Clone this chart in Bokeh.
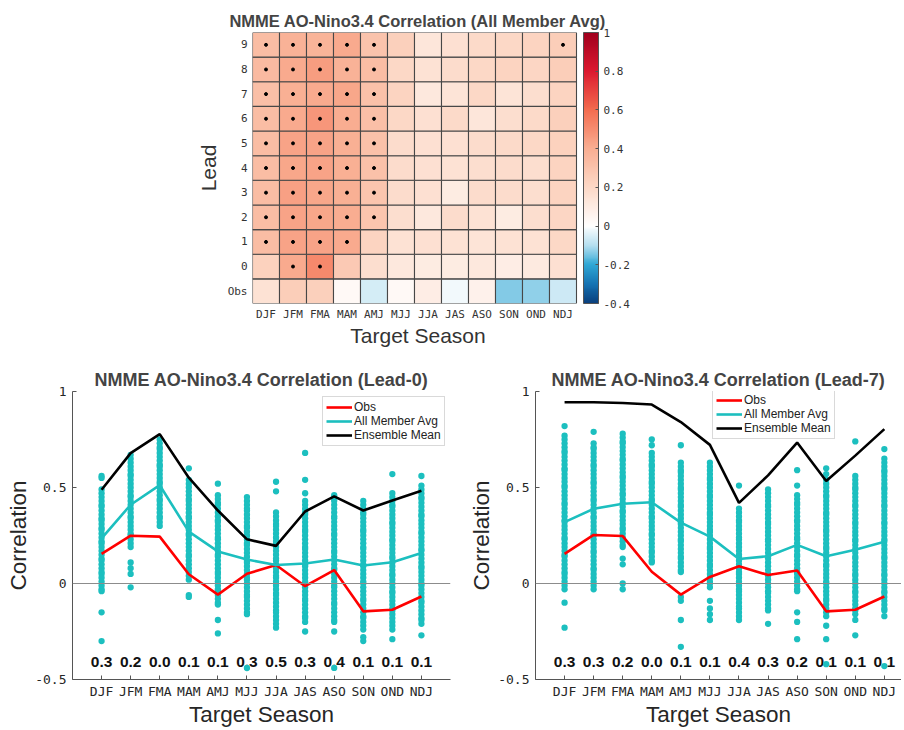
from bokeh.plotting import figure
from bokeh.models import (ColumnDataSource, LinearColorMapper, ColorBar, FixedTicker,
                          Span, Legend, LegendItem, FactorRange, Range1d, Spacer)
from bokeh.layouts import column, row
from bokeh.transform import transform
from bokeh.core.properties import value
from bokeh.embed import file_html
from bokeh.resources import INLINE

seasons = ["DJF", "JFM", "FMA", "MAM", "AMJ", "MJJ", "JJA", "JAS", "ASO", "SON", "OND", "NDJ"]
lead_labels = ["Obs", "0", "1", "2", "3", "4", "5", "6", "7", "8", "9"]

# ---------------- heatmap values (rows bottom to top) ----------------
heat_obs = [0.15, 0.25, 0.24, 0.03, -0.06, 0.03, 0.09, -0.02, 0.07, -0.14, -0.13, -0.07]
heat_l0 = [0.23, 0.41, 0.51, 0.27, 0.17, 0.12, 0.10, 0.10, 0.12, 0.09, 0.11, 0.16]
heat_l1 = [0.33, 0.43, 0.43, 0.41, 0.22, 0.15, 0.16, 0.15, 0.14, 0.15, 0.15, 0.20]
heat_l2 = [0.33, 0.43, 0.42, 0.40, 0.29, 0.17, 0.12, 0.18, 0.15, 0.10, 0.17, 0.21]
heat_l3 = [0.33, 0.44, 0.42, 0.39, 0.29, 0.18, 0.16, 0.10, 0.18, 0.18, 0.17, 0.22]
heat_l4 = [0.33, 0.42, 0.43, 0.39, 0.31, 0.18, 0.16, 0.15, 0.17, 0.18, 0.17, 0.22]
heat_l5 = [0.33, 0.43, 0.43, 0.39, 0.31, 0.18, 0.16, 0.16, 0.18, 0.19, 0.20, 0.23]
heat_l6 = [0.33, 0.41, 0.47, 0.40, 0.32, 0.20, 0.16, 0.19, 0.13, 0.17, 0.19, 0.24]
heat_l7 = [0.32, 0.39, 0.41, 0.42, 0.31, 0.22, 0.12, 0.14, 0.20, 0.14, 0.17, 0.22]
heat_l8 = [0.34, 0.41, 0.45, 0.38, 0.33, 0.20, 0.15, 0.18, 0.20, 0.22, 0.21, 0.25]
heat_l9 = [0.33, 0.38, 0.37, 0.41, 0.30, 0.24, 0.13, 0.16, 0.19, 0.20, 0.22, 0.25]
heat_rows = [heat_obs, heat_l0, heat_l1, heat_l2, heat_l3, heat_l4,
             heat_l5, heat_l6, heat_l7, heat_l8, heat_l9]

# significance dots (season names per lead)
sig_l0 = ["JFM", "FMA"]
sig_l1 = ["DJF", "JFM", "FMA", "MAM"]
sig_l2_8 = ["DJF", "JFM", "FMA", "MAM", "AMJ"]
sig_l9 = ["DJF", "JFM", "FMA", "MAM", "AMJ", "NDJ"]

cb_ticks = [-0.4, -0.2, 0, 0.2, 0.4, 0.6, 0.8, 1]

# ---------------- Lead-0 panel ----------------
l0_obs = [0.154, 0.249, 0.244, 0.048, -0.058, 0.051, 0.096, -0.014, 0.070, -0.145, -0.137, -0.068]
l0_avg = [0.235, 0.410, 0.512, 0.270, 0.167, 0.125, 0.096, 0.104, 0.125, 0.094, 0.111, 0.159]
l0_ens = [0.488, 0.679, 0.778, 0.551, 0.380, 0.230, 0.196, 0.375, 0.454, 0.380, 0.432, 0.483]
l0_pvals = ["0.3", "0.2", "0.0", "0.1", "0.1", "0.3", "0.5", "0.3", "0.4", "0.1", "0.1", "0.1"]

l0_djf = [0.56, 0.55, 0.49, 0.47, 0.45, 0.43, 0.41, 0.40, 0.38, 0.36, 0.34, 0.33, 0.31, 0.29, 0.28, 0.26,
          0.24, 0.22, 0.21, 0.19, 0.17, 0.15, 0.13, 0.12, 0.10, 0.08, 0.06, 0.05, 0.03, 0.01, -0.01,
          -0.03, -0.04, -0.15, -0.30]
l0_jfm = [0.67, 0.65, 0.63, 0.61, 0.59, 0.57, 0.56, 0.54, 0.52, 0.50, 0.48, 0.46, 0.45, 0.43, 0.41, 0.39,
          0.37, 0.35, 0.34, 0.32, 0.30, 0.28, 0.26, 0.25, 0.23, 0.21, 0.19, 0.11, 0.08, 0.05, -0.02]
l0_fma = [0.75, 0.73, 0.71, 0.70, 0.68, 0.66, 0.64, 0.62, 0.61, 0.59, 0.57, 0.55, 0.53, 0.52, 0.50, 0.48,
          0.46, 0.44, 0.43, 0.41, 0.39, 0.37, 0.35, 0.34, 0.32, 0.30]
l0_mam = [0.60, 0.54, 0.52, 0.50, 0.48, 0.46, 0.44, 0.43, 0.41, 0.39, 0.37, 0.35, 0.34, 0.32, 0.30, 0.28,
          0.26, 0.25, 0.23, 0.21, 0.19, 0.17, 0.15, 0.14, 0.12, 0.10, 0.08, 0.06, 0.04, 0.02, -0.06, -0.07]
l0_amj = [0.52, 0.46, 0.44, 0.42, 0.41, 0.39, 0.37, 0.35, 0.33, 0.32, 0.30, 0.28, 0.26, 0.24, 0.23, 0.21,
          0.19, 0.17, 0.15, 0.14, 0.12, 0.10, 0.08, 0.06, 0.05, 0.03, 0.01, -0.01, -0.03, -0.04, -0.06,
          -0.08, -0.10, -0.11, -0.19, -0.26]
l0_mjj = [0.45, 0.43, 0.41, 0.39, 0.38, 0.36, 0.34, 0.32, 0.30, 0.29, 0.27, 0.25, 0.23, 0.21, 0.20, 0.18,
          0.16, 0.14, 0.12, 0.11, 0.09, 0.07, 0.05, 0.03, 0.02, 0.00, -0.02, -0.04, -0.06, -0.07, -0.09,
          -0.11, -0.13, -0.15, -0.16, -0.44]
l0_jja = [0.53, 0.48, 0.37, 0.35, 0.33, 0.31, 0.30, 0.28, 0.26, 0.24, 0.22, 0.21, 0.19, 0.17, 0.15, 0.13,
          0.12, 0.10, 0.08, 0.06, 0.04, 0.03, 0.01, -0.01, -0.03, -0.05, -0.06, -0.08, -0.10, -0.12,
          -0.14, -0.15, -0.17, -0.19, -0.21, -0.23]
l0_jas = [0.68, 0.54, 0.47, 0.43, 0.41, 0.39, 0.37, 0.36, 0.34, 0.32, 0.30, 0.28, 0.27, 0.25, 0.23, 0.21,
          0.19, 0.18, 0.16, 0.14, 0.12, 0.10, 0.09, 0.07, 0.05, 0.03, 0.01, 0.00, -0.02, -0.04, -0.06,
          -0.08, -0.09, -0.11, -0.13, -0.15, -0.17, -0.18, -0.20, -0.25]
l0_aso = [0.46, 0.44, 0.43, 0.41, 0.39, 0.37, 0.35, 0.34, 0.32, 0.30, 0.28, 0.26, 0.25, 0.23, 0.21, 0.19,
          0.17, 0.16, 0.14, 0.12, 0.10, 0.08, 0.07, 0.05, 0.03, 0.01, -0.01, -0.02, -0.04, -0.06, -0.08,
          -0.10, -0.11, -0.13, -0.15, -0.17, -0.19, -0.20, -0.25, -0.44]
l0_son = [0.43, 0.41, 0.39, 0.37, 0.36, 0.34, 0.32, 0.30, 0.28, 0.27, 0.25, 0.23, 0.21, 0.19, 0.18, 0.16,
          0.14, 0.12, 0.10, 0.09, 0.07, 0.05, 0.03, 0.01, 0.00, -0.02, -0.04, -0.06, -0.08, -0.09, -0.11,
          -0.13, -0.15, -0.17, -0.18, -0.20, -0.22, -0.24, -0.28, -0.30]
l0_ond = [0.57, 0.47, 0.45, 0.43, 0.41, 0.40, 0.38, 0.36, 0.34, 0.32, 0.31, 0.29, 0.27, 0.25, 0.23, 0.22,
          0.20, 0.18, 0.16, 0.14, 0.13, 0.11, 0.09, 0.07, 0.05, 0.04, 0.02, 0.00, -0.02, -0.04, -0.05,
          -0.07, -0.09, -0.11, -0.13, -0.14, -0.16, -0.18, -0.20, -0.22, -0.24, -0.29]
l0_ndj = [0.56, 0.51, 0.49, 0.47, 0.45, 0.44, 0.42, 0.40, 0.38, 0.36, 0.35, 0.33, 0.31, 0.29, 0.27, 0.26,
          0.24, 0.22, 0.20, 0.18, 0.17, 0.15, 0.13, 0.11, 0.09, 0.08, 0.06, 0.04, 0.02, 0.00, -0.01,
          -0.03, -0.05, -0.07, -0.09, -0.10, -0.12, -0.14, -0.16, -0.18, -0.19, -0.21, -0.27]
l0_members = [l0_djf, l0_jfm, l0_fma, l0_mam, l0_amj, l0_mjj, l0_jja, l0_jas, l0_aso, l0_son, l0_ond, l0_ndj]

# ---------------- Lead-7 panel ----------------
l7_obs = [0.154, 0.253, 0.247, 0.061, -0.058, 0.034, 0.090, 0.044, 0.068, -0.145, -0.137, -0.068]
l7_avg = [0.320, 0.389, 0.415, 0.423, 0.317, 0.244, 0.128, 0.142, 0.201, 0.142, 0.176, 0.218]
l7_ens = [0.944, 0.944, 0.940, 0.932, 0.841, 0.722, 0.420, 0.563, 0.734, 0.534, 0.666, 0.804]
l7_pvals = ["0.3", "0.3", "0.2", "0.0", "0.1", "0.1", "0.4", "0.3", "0.2", "0.1", "0.1", "0.1"]

l7_djf = [0.82, 0.77, 0.75, 0.73, 0.71, 0.69, 0.68, 0.66, 0.64, 0.62, 0.60, 0.59, 0.57, 0.55, 0.53, 0.51,
          0.50, 0.48, 0.46, 0.44, 0.42, 0.41, 0.39, 0.37, 0.35, 0.33, 0.32, 0.30, 0.28, 0.26, 0.24, 0.23,
          0.21, 0.19, 0.17, 0.15, 0.14, 0.12, 0.10, 0.08, 0.06, 0.05, 0.03, 0.01, -0.01, -0.03, -0.10, -0.23]
l7_jfm = [0.79, 0.73, 0.71, 0.70, 0.68, 0.66, 0.64, 0.62, 0.61, 0.59, 0.57, 0.55, 0.53, 0.52, 0.50, 0.48,
          0.46, 0.44, 0.43, 0.41, 0.39, 0.37, 0.35, 0.34, 0.32, 0.30, 0.28, 0.26, 0.25, 0.23, 0.21, 0.19,
          0.17, 0.16, 0.14, 0.12, 0.10, 0.08, 0.07, 0.05, 0.03, 0.01, -0.01, -0.03]
l7_fma = [0.78, 0.76, 0.74, 0.73, 0.71, 0.69, 0.67, 0.65, 0.64, 0.62, 0.60, 0.58, 0.56, 0.55, 0.53, 0.51,
          0.49, 0.47, 0.46, 0.44, 0.42, 0.40, 0.38, 0.37, 0.35, 0.33, 0.31, 0.29, 0.28, 0.26, 0.24, 0.22,
          0.20, 0.19, 0.13, 0.10, 0.00, -0.03]
l7_mam = [0.75, 0.72, 0.68, 0.66, 0.64, 0.62, 0.61, 0.59, 0.57, 0.55, 0.53, 0.52, 0.50, 0.48, 0.46, 0.44,
          0.43, 0.41, 0.39, 0.37, 0.35, 0.34, 0.32, 0.30, 0.28, 0.26, 0.25, 0.23, 0.21, 0.19, 0.17, 0.16,
          0.14, 0.12, 0.11]
l7_amj = [0.72, 0.63, 0.61, 0.59, 0.58, 0.56, 0.54, 0.52, 0.50, 0.49, 0.47, 0.45, 0.43, 0.41, 0.40, 0.38,
          0.36, 0.34, 0.32, 0.31, 0.29, 0.27, 0.25, 0.23, 0.22, 0.20, 0.18, 0.16, 0.14, 0.13, 0.11, 0.09,
          0.07, 0.06, -0.07, -0.09, -0.19, -0.33]
l7_mjj = [0.63, 0.61, 0.59, 0.57, 0.55, 0.54, 0.52, 0.50, 0.48, 0.46, 0.45, 0.43, 0.41, 0.39, 0.37, 0.36,
          0.34, 0.32, 0.30, 0.28, 0.27, 0.25, 0.23, 0.21, 0.19, 0.18, 0.16, 0.14, 0.12, 0.10, 0.09, 0.07,
          0.05, 0.03, 0.01, 0.00, -0.02, -0.09, -0.13, -0.16, -0.19]
l7_jja = [0.51, 0.39, 0.37, 0.35, 0.33, 0.32, 0.30, 0.28, 0.26, 0.24, 0.23, 0.21, 0.19, 0.17, 0.15, 0.14,
          0.12, 0.10, 0.08, 0.06, 0.05, 0.03, 0.01, -0.01, -0.03, -0.04, -0.06, -0.08, -0.10, -0.12,
          -0.13, -0.15, -0.17, -0.19]
l7_jas = [0.49, 0.47, 0.45, 0.43, 0.41, 0.40, 0.38, 0.36, 0.34, 0.32, 0.31, 0.29, 0.27, 0.25, 0.23, 0.22,
          0.20, 0.18, 0.16, 0.14, 0.13, 0.11, 0.09, 0.07, 0.05, 0.04, 0.02, 0.00, -0.02, -0.04, -0.05,
          -0.07, -0.09, -0.11, -0.13, -0.14, -0.21]
l7_aso = [0.59, 0.51, 0.46, 0.44, 0.42, 0.41, 0.39, 0.37, 0.35, 0.33, 0.32, 0.30, 0.28, 0.26, 0.24, 0.23,
          0.21, 0.19, 0.17, 0.15, 0.14, 0.12, 0.10, 0.08, 0.06, 0.05, 0.03, 0.01, -0.01, -0.03, -0.04,
          -0.15, -0.20, -0.29]
l7_son = [0.60, 0.57, 0.54, 0.52, 0.50, 0.48, 0.46, 0.45, 0.43, 0.41, 0.39, 0.37, 0.36, 0.34, 0.32, 0.30,
          0.28, 0.27, 0.25, 0.23, 0.21, 0.19, 0.18, 0.16, 0.14, 0.12, 0.10, 0.09, 0.07, 0.05, 0.03, 0.01,
          0.00, -0.02, -0.04, -0.06, -0.08, -0.09, -0.11, -0.13, -0.15, -0.17, -0.22, -0.29, -0.42]
l7_ond = [0.74, 0.56, 0.54, 0.52, 0.50, 0.49, 0.47, 0.45, 0.43, 0.41, 0.40, 0.38, 0.36, 0.34, 0.32, 0.31,
          0.29, 0.27, 0.25, 0.23, 0.22, 0.20, 0.18, 0.16, 0.14, 0.13, 0.11, 0.09, 0.07, 0.05, 0.04, 0.02,
          0.00, -0.02, -0.04, -0.05, -0.07, -0.09, -0.11, -0.13, -0.14, -0.16, -0.19, -0.27]
l7_ndj = [0.70, 0.65, 0.63, 0.61, 0.59, 0.58, 0.56, 0.54, 0.52, 0.50, 0.49, 0.47, 0.45, 0.43, 0.41, 0.40,
          0.38, 0.36, 0.34, 0.32, 0.31, 0.29, 0.27, 0.25, 0.23, 0.22, 0.20, 0.18, 0.16, 0.14, 0.13, 0.11,
          0.09, 0.07, 0.05, 0.04, 0.02, 0.00, -0.02, -0.04, -0.05, -0.07, -0.09, -0.11, -0.13, -0.14,
          -0.17, -0.43]
l7_members = [l7_djf, l7_jfm, l7_fma, l7_mam, l7_amj, l7_mjj, l7_jja, l7_jas, l7_aso, l7_son, l7_ond, l7_ndj]

# ---------------- styling ----------------
SANS = "Liberation Sans"
MONO = "DejaVu Sans Mono"
CYAN = "#1cbfbf"
AXC = "#262626"


def hex2rgb(h):
    h = h.lstrip("#")
    return tuple(int(h[i:i + 2], 16) for i in (0, 2, 4))


anchors = [(-0.4, "#0a3f7c"), (-0.3, "#1572b2"), (-0.2, "#30a8d5"), (-0.1, "#b5dff0"),
           (0.0, "#ffffff"), (0.2, "#fcd9c7"), (0.4, "#f9ae92"), (0.6, "#f36c4f"),
           (0.8, "#dc1a30"), (1.0, "#a0001e")]
palette = []
N = 280
for k in range(N):
    v = -0.4 + 1.4 * (k + 0.5) / N
    for j in range(len(anchors) - 1):
        v0, c0 = anchors[j]
        v1, c1 = anchors[j + 1]
        if v0 <= v <= v1:
            t = (v - v0) / (v1 - v0)
            a, b = hex2rgb(c0), hex2rgb(c1)
            palette.append("#%02x%02x%02x" % tuple(int(round(a[i] + (b[i] - a[i]) * t)) for i in range(3)))
            break
mapper = LinearColorMapper(palette=palette, low=-0.4, high=1.0)

TOP_H = 349
TOP_B, BOT_B = 32, 46
CELL_W = 27
GAP = 7

# ---------------- heatmap ----------------
hx, hy, hv = [], [], []
for li, rowvals in enumerate(heat_rows):
    for si, s in enumerate(seasons):
        hx.append(si + 1)
        hy.append(lead_labels[li])
        hv.append(rowvals[si])
hsrc = ColumnDataSource(dict(x=hx, y=hy, v=hv))

sx, sy = [], []
for li, sigs in [(1, sig_l0), (2, sig_l1)] + [(k, sig_l2_8) for k in range(3, 10)] + [(10, sig_l9)]:
    for s in sigs:
        sx.append(seasons.index(s) + 1)
        sy.append(lead_labels[li])

hm = figure(x_range=Range1d(0.5, 12.5 + GAP / CELL_W), y_range=FactorRange(*lead_labels),
            width=59 + 12 * CELL_W + GAP + 52, height=TOP_H, min_border_left=59, min_border_right=52,
            min_border_top=TOP_B, min_border_bottom=BOT_B, output_backend="svg", toolbar_location=None,
            title="NMME AO-Nino3.4 Correlation (All Member Avg)")
hm.rect(x="x", y="y", width=1, height=1, source=hsrc, fill_color=transform("v", mapper),
        line_color="#474747", line_width=1.1)
hm.scatter(x=sx, y=sy, size=3, color="black")
hm.grid.visible = False
hm.outline_line_color = None
hm.title.align = "center"
hm.title.offset = -3
hm.title.text_font = SANS
hm.title.text_font_size = "16.5px"
hm.title.text_font_style = "bold"
hm.title.standoff = 5
hm.xaxis.ticker = FixedTicker(ticks=list(range(1, 13)))
hm.xaxis.major_label_overrides = {i + 1: s for i, s in enumerate(seasons)}
for ax in (hm.xaxis[0], hm.yaxis[0]):
    ax.axis_line_color = None
    ax.major_tick_line_color = None
    ax.major_tick_in = 0
    ax.major_tick_out = 0
    ax.minor_tick_line_color = None
    ax.minor_tick_in = 0
    ax.minor_tick_out = 0
    ax.major_label_text_font = MONO
    ax.major_label_text_font_size = "11px"
    ax.major_label_text_color = "#333333"
    ax.axis_label_text_font = SANS
    ax.axis_label_text_font_size = "21px"
    ax.axis_label_text_font_style = "normal"
    ax.axis_label_text_color = "#333333"
hm.xaxis.axis_label = "Target Season"
hm.yaxis.axis_label = "Lead"
hm.xaxis.major_label_standoff = 4
hm.yaxis.major_label_standoff = 5
hm.xaxis.axis_label_standoff = 0
hm.yaxis.axis_label_standoff = 5

cbar = ColorBar(color_mapper=mapper, ticker=FixedTicker(ticks=cb_ticks), width=15,
                padding=0, margin=0, label_standoff=5,
                major_label_overrides={-0.4: "-0.4", -0.2: "-0.2", 0: "0", 0.2: "0.2", 0.4: "0.4",
                                       0.6: "0.6", 0.8: "0.8", 1: "1"},
                major_label_text_font=MONO, major_label_text_font_size="11px",
                major_label_text_color="#333333", major_tick_line_color="#555555",
                major_tick_in=3, minor_tick_line_color=None, bar_line_color="#555555",
                background_fill_color=None)
hm.add_layout(cbar, "right")

BOT_FRAME_H = 288


# ---------------- correlation panels ----------------
def corr_panel(title, members, obs, avg, ens, pvals, xmax, mbl, fw, mbr, leg_xy):
    p = figure(x_range=Range1d(0, xmax), y_range=Range1d(-0.5, 1), width=mbl + fw + mbr,
               height=42 + BOT_FRAME_H + 50,
               min_border_left=mbl, min_border_right=mbr, min_border_top=42, min_border_bottom=50,
               output_backend="svg", toolbar_location=None, title=title)
    p.grid.visible = False
    p.outline_line_color = None
    p.add_layout(Span(location=0, dimension="width", line_color="#8c8c8c", line_width=1))
    xs = list(range(1, 13))
    p.text(x=xs, y=[-0.41] * 12, text=pvals, text_align="center", text_baseline="middle",
           text_font=value(SANS), text_font_style="bold", text_font_size="15.5px", text_color="#111111")
    mx, my = [], []
    for i, vals in enumerate(members):
        for v in vals:
            mx.append(i + 1)
            my.append(v)
    p.scatter(x=mx, y=my, size=6.3, color=CYAN, line_color=None)
    r_obs = p.line(xs, obs, line_color="#ff0000", line_width=2.6)
    r_avg = p.line(xs, avg, line_color=CYAN, line_width=2.6)
    r_ens = p.line(xs, ens, line_color="black", line_width=2.6)
    leg = Legend(items=[LegendItem(label="Obs", renderers=[r_obs]),
                        LegendItem(label="All Member Avg", renderers=[r_avg]),
                        LegendItem(label="Ensemble Mean", renderers=[r_ens])],
                 location=leg_xy, orientation="vertical", margin=0, padding=3, spacing=0,
                 label_height=14, glyph_height=14, glyph_width=26, label_standoff=2,
                 label_text_font=SANS, label_text_font_size="12px", label_text_color="#222222",
                 border_line_color="#b4b4b4", border_line_width=1, background_fill_alpha=1)
    p.add_layout(leg)
    p.title.align = "center"
    p.title.text_font = SANS
    p.title.text_font_size = "18px"
    p.title.text_font_style = "bold"
    p.title.standoff = 4
    p.xaxis.ticker = FixedTicker(ticks=xs)
    p.xaxis.major_label_overrides = {i + 1: s for i, s in enumerate(seasons)}
    p.yaxis.ticker = FixedTicker(ticks=[-0.5, 0, 0.5, 1])
    p.yaxis.major_label_overrides = {-0.5: "-0.5", 0: "0", 0.5: "0.5", 1: "1"}
    for ax in (p.xaxis[0], p.yaxis[0]):
        ax.axis_line_color = "#555555"
        ax.axis_line_width = 1
        ax.major_tick_line_color = "#555555"
        ax.major_tick_in = 4
        ax.major_tick_out = 0
        ax.minor_tick_line_color = None
        ax.minor_tick_in = 0
        ax.minor_tick_out = 0
        ax.major_label_text_font = MONO
        ax.major_label_text_font_size = "13px"
        ax.major_label_text_color = AXC
        ax.axis_label_text_font = SANS
        ax.axis_label_text_font_size = "22.5px"
        ax.axis_label_text_font_style = "normal"
        ax.axis_label_text_color = AXC
    p.xaxis.axis_label = "Target Season"
    p.yaxis.axis_label = "Correlation"
    p.xaxis.major_label_standoff = 4
    p.yaxis.major_label_standoff = 6
    p.xaxis.axis_label_standoff = 0
    p.yaxis.axis_label_standoff = 1
    return p


p0 = corr_panel("NMME AO-Nino3.4 Correlation (Lead-0)", l0_members, l0_obs, l0_avg, l0_ens, l0_pvals,
                13, 72, 378, 16, (250, 233))
p7 = corr_panel("NMME AO-Nino3.4 Correlation (Lead-7)", l7_members, l7_obs, l7_avg, l7_ens, l7_pvals,
                12.59, 69, 366, 0, (177, 240))

layout = column(row(Spacer(width=193, height=TOP_H), hm), row(p0, p7))
open("out.html", "w").write(file_html(layout, INLINE))
